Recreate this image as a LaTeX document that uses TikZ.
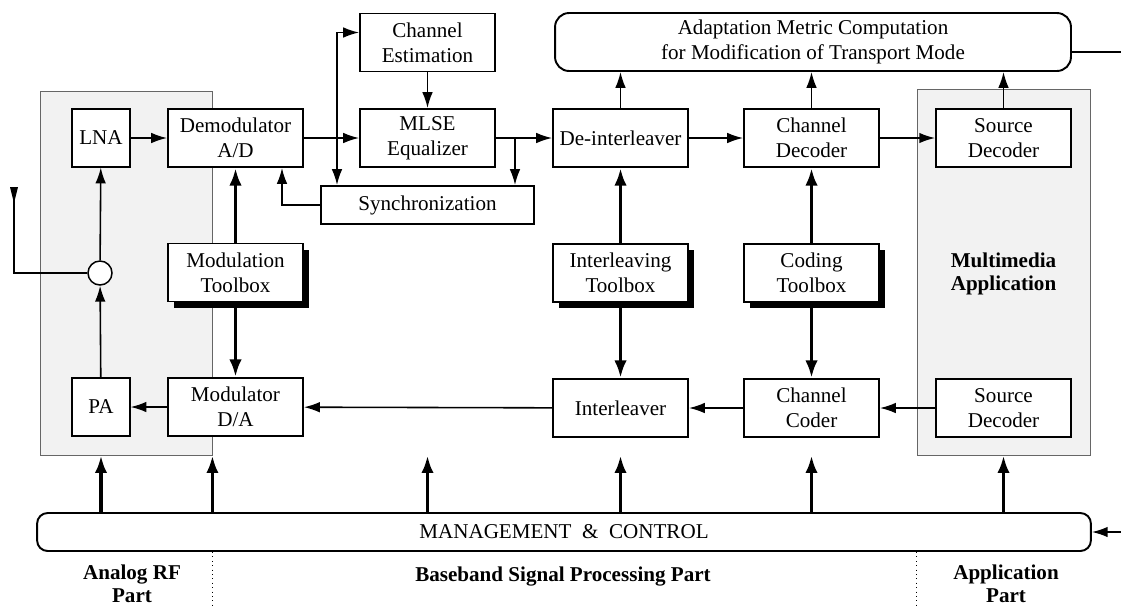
\documentclass[tikz,border=0pt]{standalone}
\usepackage{fontspec}
\setmainfont{Liberation Serif}
\usetikzlibrary{arrows.meta,shadows}

\begin{document}
\begin{tikzpicture}[x=0.02cm,y=-0.02cm,
	font=\fontsize{12}{14.2}\selectfont,
	blk/.style={draw,line width=1.1pt,fill=white,align=center,inner sep=0pt,minimum width=2.7cm,minimum height=1.16cm},
	sq/.style={blk,line width=0.6pt,minimum width=1.16cm},
	tbox/.style={blk,drop shadow={shadow xshift=0.12cm,shadow yshift=-0.12cm,fill=black,opacity=1}},
	part/.style={draw=black!60,line width=0.5pt,fill=black!5,inner sep=0pt},
	sig/.style={line width=0.9pt,-{Latex[length=9pt,width=6pt]}},
	ctl/.style={line width=2pt,-{Latex[length=10pt,width=7pt]}},
	lbl/.style={font=\fontsize{12}{13}\selectfont\bfseries,align=center}]
	\useasboundingbox (0,0) rectangle (1121,606);
	% shaded parts
	\node[part,minimum width=3.44cm,minimum height=7.28cm] (rf) at (126,273) {};
	\node[part,minimum width=3.46cm,minimum height=7.32cm] (app) at (1003.5,272) {};
	\node[lbl] (mmlbl) at (1003.5,274) {Multimedia\\Application};
	% receive chain
	\node[sq] (lna) at (101,138) {LNA};
	\node[blk] (demod) at (235.5,138) {Demodulator\\A/D};
	\node[blk] (chest) at (427.5,42.5) {Channel\\Estimation};
	\node[blk] (mlse) at (427.5,138) {MLSE\\Equalizer};
	\node[blk,minimum width=4.26cm,minimum height=0.76cm] (sync) at (427.5,205) {Synchronization};
	\node[blk] (deint) at (620.5,138) {De-interleaver};
	\node[blk] (chdec) at (811.5,138) {Channel\\Decoder};
	\node[blk] (srcdec) at (1003.5,138) {Source\\Decoder};
	\node[blk,rounded corners=8pt,minimum width=10.32cm] (adapt) at (813,42) {Adaptation Metric Computation\\for Modification of Transport Mode};
	% toolboxes
	\node[tbox] (modtb) at (235.5,272.5) {Modulation\\Toolbox};
	\node[tbox] (intb) at (620.5,273) {Interleaving\\Toolbox};
	\node[tbox] (codtb) at (811.5,273) {Coding\\Toolbox};
	\node[draw,circle,line width=0.85pt,fill=white,minimum size=0.48cm,inner sep=0pt] (comb) at (100,273) {};
	% transmit chain
	\node[sq] (pa) at (101,407) {PA};
	\node[blk] (mod) at (235.5,407) {Modulator\\D/A};
	\node[blk] (intl) at (620.5,408) {Interleaver};
	\node[blk] (chcod) at (811.5,408) {Channel\\Coder};
	\node[blk] (srccod) at (1003.5,408) {Source\\Decoder};
	\node[blk,rounded corners=6pt,minimum width=21.08cm,minimum height=0.76cm] (mgmt) at (564,532) {MANAGEMENT \ \& \ CONTROL};
	\coordinate (ant) at (14,190);
	\coordinate (j1) at (337,138);
	\coordinate (j2) at (515,138);
	\coordinate (adout) at (1121,52);
	\coordinate (ctlin) at (1121,532);
	% signal paths
	\draw[line width=0.9pt] (comb) -| (ant);
	\fill (10,187) -- (18,187) -- (14,203) -- cycle;
	\draw[sig] (comb) -- (lna);
	\draw[sig] (lna) -- (demod);
	\draw[sig] (demod) -- (mlse);
	\draw[sig] (j1) |- ([yshift=0.2cm]chest.west);
	\draw[sig] (j1) -- (j1 |- sync.north);
	\draw[sig] (chest) -- (mlse);
	\draw[sig] (mlse) -- (deint);
	\draw[sig] (j2) -- (j2 |- sync.north);
	\draw[sig] (sync.west) -| ([xshift=0.93cm]demod.south);
	\draw[sig] (deint) -- (chdec);
	\draw[sig] (chdec) -- (srcdec);
	\draw[sig] (deint) -- (deint |- adapt.south);
	\draw[sig] (chdec) -- (chdec |- adapt.south);
	\draw[sig] (srcdec) -- (srcdec |- adapt.south);
	\draw[line width=0.9pt] ([yshift=-0.2cm]adapt.east) -- (adout);
	\draw[sig] (srccod) -- (chcod);
	\draw[sig] (chcod) -- (intl);
	\draw[sig] (intl) -- (mod);
	\draw[sig] (mod) -- (pa);
	\draw[sig] (pa) -- (comb);
	\draw[sig] (ctlin) -- (mgmt);
	% control paths
	\draw[ctl] (modtb) -- (demod);
	\draw[ctl] (modtb) -- (mod);
	\draw[ctl] (intb) -- (deint);
	\draw[ctl] (intb) -- (intl);
	\draw[ctl] (codtb) -- (chdec);
	\draw[ctl] (codtb) -- (chcod);
	\draw[ctl] (mgmt.north -| pa) -- (pa |- rf.south);
	\draw[ctl] (mgmt.north -| rf.east) -- (rf.south east);
	\foreach \n in {mlse,intl,chcod}
		\draw[ctl] (mgmt.north -| \n) -- (\n |- rf.south);
	\draw[ctl] (mgmt.north -| srccod) -- (srccod |- app.south);
	% part labels
	\draw[dotted,line width=0.5pt] (mgmt.south -| rf.east) -- ++(0,55);
	\draw[dotted,line width=0.5pt] (mgmt.south -| app.west) -- ++(0,55);
	\node[lbl] (rflbl) at (132,584) {Analog RF\\Part};
	\node[lbl] (bblbl) at (563,576) {Baseband Signal Processing Part};
	\node[lbl] (applbl) at (1006,584) {Application\\Part};
\end{tikzpicture}
\end{document}
